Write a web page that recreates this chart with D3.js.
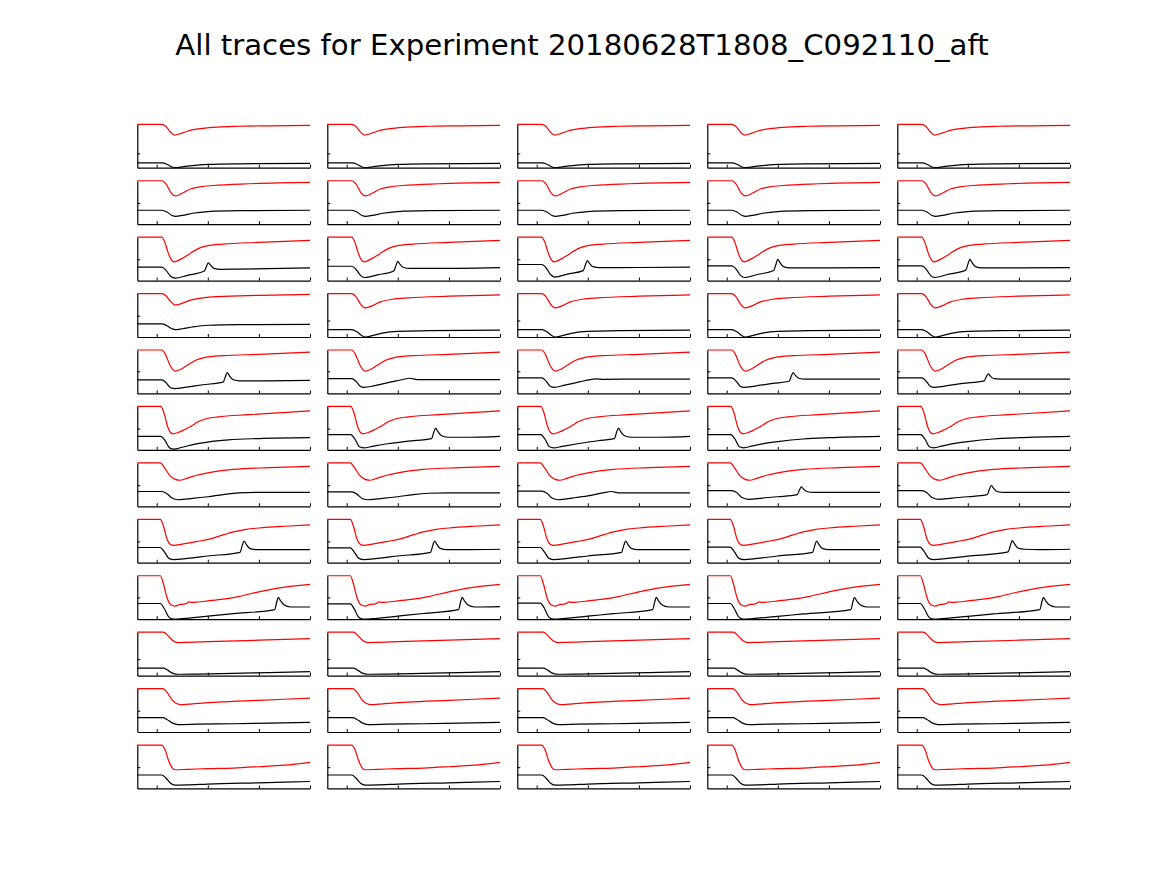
<!DOCTYPE html>
<html><head><meta charset="utf-8">
<script src="https://cdn.jsdelivr.net/npm/d3@7"></script>
<style>body{margin:0;background:#fff}</style>
</head><body>
<script>
// ---------- data (t in axis units, v as fraction of each panel's y-range) ----------
const title = "All traces for Experiment 20180628T1808_C092110_aft";
const xTicks = [0, 1, 2, 3];
const xDomain = [-0.38, 3];

// y tick value per row and column
const yTicks = [
  [0.33, 0.33, 0.33, 0.33, 0.33],
  [0.49, 0.49, 0.49, 0.49, 0.49],
  [0.49, 0.49, 0.49, 0.49, 0.49],
  [0.49, 0.38, 0.38, 0.38, 0.38],
  [0.51, 0.51, 0.51, 0.51, 0.51],
  [0.49, 0.49, 0.49, 0.49, 0.49],
  [0.485, 0.485, 0.485, 0.485, 0.485],
  [0.49, 0.49, 0.49, 0.49, 0.49],
  [0.5, 0.5, 0.5, 0.5, 0.5],
  [0.38, 0.38, 0.38, 0.38, 0.38],
  [0.49, 0.49, 0.49, 0.49, 0.49],
  [0.49, 0.49, 0.49, 0.49, 0.49]
];

// red traces
const red1 = [[-0.38,1],[0.1,1],[0.18,0.95],[0.27,0.82],[0.35,0.75],[0.48,0.79],[0.65,0.86],[0.85,0.9],[1.1,0.93],[1.6,0.955],[2.2,0.965],[3,0.975]];
const red2 = [[-0.38,1],[0.1,1],[0.18,0.93],[0.28,0.72],[0.37,0.65],[0.5,0.71],[0.66,0.81],[0.85,0.86],[1.1,0.89],[1.8,0.93],[3,0.96]];
const red3 = [[-0.38,1],[0.1,1],[0.16,0.88],[0.23,0.62],[0.29,0.47],[0.34,0.43],[0.48,0.5],[0.65,0.62],[0.8,0.73],[0.98,0.8],[1.3,0.84],[2,0.88],[3,0.925]];
const red4a = [[-0.38,1],[0.1,1],[0.18,0.95],[0.27,0.82],[0.36,0.735],[0.48,0.77],[0.66,0.85],[0.9,0.9],[1.2,0.93],[2,0.96],[3,0.98]];
const red4b = [[-0.38,1],[0.1,1],[0.18,0.93],[0.27,0.76],[0.36,0.67],[0.48,0.71],[0.66,0.81],[0.9,0.87],[1.2,0.9],[2,0.94],[3,0.97]];
const red5 = [[-0.38,1],[0.1,1],[0.17,0.9],[0.26,0.65],[0.36,0.515],[0.46,0.55],[0.6,0.65],[0.75,0.76],[0.95,0.83],[1.3,0.87],[2,0.9],[3,0.95]];
const red6 = [[-0.38,1],[0.08,1],[0.14,0.86],[0.21,0.55],[0.27,0.4],[0.32,0.37],[0.42,0.4],[0.55,0.47],[0.68,0.55],[0.8,0.64],[0.95,0.71],[1.2,0.76],[1.8,0.81],[3,0.9]];
const red7 = [[-0.38,1],[0.07,1],[0.15,0.89],[0.25,0.72],[0.36,0.62],[0.45,0.6],[0.6,0.65],[0.8,0.72],[1.0,0.77],[1.5,0.85],[2.2,0.89],[3,0.92]];
const red8 = [[-0.38,1],[0.07,1],[0.13,0.85],[0.2,0.55],[0.27,0.42],[0.33,0.4],[0.5,0.43],[0.8,0.49],[1.05,0.55],[1.3,0.64],[1.5,0.71],[1.75,0.77],[2,0.8],[2.5,0.84],[3,0.87]];
const red9 = [[-0.38,1],[0.07,1],[0.13,0.82],[0.2,0.5],[0.28,0.33],[0.36,0.3],[0.46,0.34],[0.53,0.345],[0.58,0.36],[0.63,0.4],[0.69,0.385],[0.8,0.395],[1.0,0.42],[1.3,0.46],[1.6,0.52],[2.0,0.63],[2.4,0.72],[3,0.8]];
const red10 = [[-0.38,1],[0.13,1],[0.22,0.92],[0.32,0.8],[0.42,0.76],[0.6,0.765],[1.0,0.78],[2,0.815],[3,0.85]];
const red11 = [[-0.38,1],[0.12,1],[0.2,0.92],[0.3,0.74],[0.4,0.65],[0.47,0.63],[0.7,0.65],[1.2,0.69],[2,0.73],[3,0.78]];
const red12 = [[-0.38,1],[0.1,1],[0.16,0.9],[0.23,0.65],[0.3,0.48],[0.36,0.43],[0.6,0.44],[1.0,0.455],[1.5,0.47],[2,0.5],[2.5,0.535],[3,0.6]];

// black traces
const blk1 = [[-0.38,0.11],[0.1,0.11],[0.2,0.08],[0.3,0.015],[0.37,0],[0.5,0.02],[0.7,0.05],[1.0,0.075],[1.6,0.09],[3,0.1]];
const blk2 = [[-0.38,0.32],[0.1,0.32],[0.2,0.28],[0.3,0.2],[0.37,0.18],[0.5,0.2],[0.7,0.25],[1.0,0.29],[1.6,0.31],[3,0.32]];
const blk3 = [
  [[-0.38,0.31],[0.1,0.31],[0.18,0.24],[0.27,0.1],[0.36,0.055],[0.6,0.12],[0.93,0.22],[0.975,0.33],[1.01,0.41],[1.05,0.36],[1.12,0.28],[1.25,0.26],[1.6,0.265],[3,0.29]],
  [[-0.38,0.33],[0.1,0.33],[0.18,0.26],[0.27,0.12],[0.35,0.07],[0.6,0.13],[0.92,0.22],[0.965,0.35],[1.0,0.44],[1.04,0.38],[1.11,0.3],[1.24,0.28],[1.6,0.28],[3,0.3]],
  [[-0.38,0.37],[0.1,0.37],[0.18,0.3],[0.27,0.14],[0.35,0.08],[0.6,0.15],[0.91,0.23],[0.955,0.37],[0.99,0.46],[1.03,0.4],[1.1,0.32],[1.23,0.3],[1.6,0.3],[3,0.31]],
  [[-0.38,0.34],[0.1,0.34],[0.18,0.27],[0.27,0.12],[0.35,0.07],[0.6,0.14],[0.92,0.23],[0.965,0.38],[1.0,0.49],[1.04,0.42],[1.11,0.32],[1.24,0.29],[1.6,0.29],[3,0.3]],
  [[-0.38,0.34],[0.1,0.34],[0.18,0.27],[0.27,0.12],[0.35,0.07],[0.6,0.14],[0.96,0.24],[1.005,0.39],[1.04,0.49],[1.08,0.42],[1.15,0.32],[1.28,0.29],[1.6,0.29],[3,0.3]]
];
const blk4a = [[-0.38,0.3],[0.1,0.3],[0.2,0.26],[0.3,0.19],[0.36,0.17],[0.5,0.19],[0.7,0.23],[1.0,0.27],[1.6,0.285],[3,0.29]];
const blk4b = [[-0.38,0.17],[0.1,0.17],[0.2,0.12],[0.3,0.03],[0.36,0],[0.5,0.03],[0.7,0.09],[1.0,0.13],[1.6,0.145],[3,0.16]];
const blk5 = [
  [[-0.38,0.31],[0.1,0.31],[0.18,0.25],[0.27,0.13],[0.36,0.11],[0.55,0.14],[0.9,0.2],[1.3,0.26],[1.345,0.39],[1.38,0.48],[1.42,0.41],[1.49,0.32],[1.62,0.29],[2,0.29],[3,0.3]],
  [[-0.38,0.34],[0.1,0.34],[0.18,0.28],[0.27,0.16],[0.34,0.14],[0.55,0.18],[0.9,0.27],[1.1,0.32],[1.23,0.35],[1.38,0.32],[2,0.32],[3,0.32]],
  [[-0.38,0.36],[0.1,0.36],[0.18,0.29],[0.27,0.16],[0.34,0.14],[0.55,0.19],[0.85,0.27],[1.05,0.32],[1.16,0.335],[1.3,0.325],[2,0.33],[3,0.33]],
  [[-0.38,0.36],[0.1,0.36],[0.18,0.29],[0.27,0.16],[0.34,0.14],[0.55,0.17],[0.9,0.23],[1.22,0.28],[1.265,0.4],[1.3,0.48],[1.34,0.42],[1.41,0.35],[1.54,0.33],[2,0.33],[3,0.33]],
  [[-0.38,0.36],[0.1,0.36],[0.18,0.29],[0.27,0.16],[0.34,0.14],[0.55,0.17],[0.9,0.23],[1.32,0.29],[1.365,0.39],[1.4,0.45],[1.44,0.4],[1.51,0.34],[1.64,0.33],[2,0.33],[3,0.33]]
];
const blk6a = [[-0.38,0.31],[0.08,0.31],[0.16,0.22],[0.25,0.05],[0.33,0.015],[0.5,0.06],[0.75,0.13],[1.0,0.18],[1.4,0.23],[2,0.26],[3,0.28]];
const blk6b = [[-0.38,0.35],[0.08,0.35],[0.16,0.25],[0.25,0.07],[0.33,0.045],[0.5,0.08],[0.8,0.14],[1.2,0.2],[1.66,0.26],[1.705,0.41],[1.74,0.5],[1.78,0.43],[1.85,0.33],[1.98,0.29],[2.4,0.29],[3,0.31]];
const blk6c = [[-0.38,0.35],[0.08,0.35],[0.16,0.25],[0.25,0.07],[0.33,0.045],[0.5,0.08],[0.8,0.14],[1.2,0.21],[1.52,0.26],[1.565,0.41],[1.6,0.5],[1.64,0.43],[1.71,0.33],[1.84,0.29],[2.4,0.29],[3,0.31]];
const blk6d = [[-0.38,0.35],[0.08,0.35],[0.16,0.25],[0.25,0.07],[0.33,0.045],[0.5,0.09],[0.75,0.15],[1.0,0.19],[1.5,0.25],[2,0.28],[3,0.31]];
const blk7 = [
  [[-0.38,0.34],[0.1,0.34],[0.2,0.29],[0.3,0.19],[0.42,0.15],[0.7,0.18],[1.0,0.22],[1.3,0.27],[1.6,0.31],[2,0.32],[3,0.32]],
  [[-0.38,0.33],[0.1,0.33],[0.2,0.28],[0.3,0.18],[0.42,0.15],[0.7,0.18],[1.0,0.22],[1.3,0.27],[1.6,0.3],[2,0.31],[3,0.31]],
  [[-0.38,0.35],[0.1,0.35],[0.2,0.3],[0.3,0.19],[0.42,0.15],[0.7,0.19],[1.0,0.24],[1.3,0.31],[1.46,0.34],[1.6,0.31],[2,0.31],[3,0.31]],
  [[-0.38,0.36],[0.1,0.36],[0.2,0.31],[0.3,0.2],[0.42,0.16],[0.7,0.19],[1.0,0.22],[1.38,0.27],[1.425,0.38],[1.46,0.45],[1.5,0.4],[1.57,0.34],[1.7,0.32],[2,0.32],[3,0.32]],
  [[-0.38,0.36],[0.1,0.36],[0.2,0.31],[0.3,0.2],[0.42,0.16],[0.7,0.19],[1.0,0.22],[1.38,0.27],[1.425,0.4],[1.46,0.48],[1.5,0.42],[1.57,0.34],[1.7,0.32],[2,0.32],[3,0.32]]
];
const blk8 = [
  [[-0.38,0.35],[0.07,0.35],[0.15,0.25],[0.24,0.1],[0.34,0.07],[0.6,0.1],[1.0,0.155],[1.63,0.24],[1.675,0.4],[1.71,0.5],[1.75,0.43],[1.82,0.33],[1.95,0.3],[2.3,0.3],[3,0.3]],
  [[-0.38,0.34],[0.07,0.34],[0.15,0.24],[0.24,0.1],[0.34,0.07],[0.6,0.1],[1.0,0.155],[1.64,0.24],[1.685,0.4],[1.72,0.5],[1.76,0.43],[1.83,0.33],[1.96,0.3],[2.3,0.3],[3,0.31]],
  [[-0.38,0.35],[0.07,0.35],[0.15,0.25],[0.24,0.1],[0.34,0.07],[0.6,0.1],[1.0,0.155],[1.66,0.24],[1.705,0.4],[1.74,0.5],[1.78,0.43],[1.85,0.33],[1.98,0.3],[2.3,0.3],[3,0.3]],
  [[-0.38,0.36],[0.07,0.36],[0.15,0.25],[0.24,0.1],[0.34,0.07],[0.6,0.1],[1.0,0.155],[1.68,0.24],[1.725,0.4],[1.76,0.5],[1.8,0.43],[1.87,0.33],[2.0,0.3],[2.3,0.3],[3,0.3]],
  [[-0.38,0.36],[0.07,0.36],[0.15,0.25],[0.24,0.1],[0.34,0.07],[0.6,0.1],[1.0,0.15],[1.79,0.25],[1.835,0.41],[1.87,0.51],[1.91,0.44],[1.98,0.34],[2.11,0.31],[2.4,0.3],[3,0.31]]
];
const blk9 = [
  [[-0.38,0.36],[0.07,0.36],[0.15,0.24],[0.23,0.06],[0.32,0],[0.5,0.01],[1.0,0.07],[1.5,0.125],[2.31,0.22],[2.35,0.4],[2.38,0.5],[2.42,0.43],[2.49,0.33],[2.62,0.28],[3,0.28]],
  [[-0.38,0.35],[0.07,0.35],[0.15,0.23],[0.23,0.05],[0.32,0],[0.5,0.01],[1.0,0.07],[1.5,0.13],[2.19,0.22],[2.23,0.4],[2.26,0.5],[2.3,0.43],[2.37,0.33],[2.5,0.28],[3,0.29]],
  [[-0.38,0.37],[0.07,0.37],[0.15,0.25],[0.23,0.06],[0.32,0],[0.5,0.01],[1.0,0.07],[1.5,0.125],[2.27,0.22],[2.31,0.4],[2.34,0.5],[2.38,0.43],[2.45,0.33],[2.58,0.28],[3,0.28]],
  [[-0.38,0.36],[0.07,0.36],[0.15,0.24],[0.23,0.06],[0.32,0],[0.5,0.01],[1.0,0.065],[1.5,0.12],[2.43,0.22],[2.47,0.4],[2.5,0.5],[2.54,0.43],[2.61,0.33],[2.74,0.28],[3,0.28]],
  [[-0.38,0.36],[0.07,0.36],[0.15,0.24],[0.23,0.06],[0.32,0],[0.5,0.01],[1.0,0.065],[1.5,0.12],[2.41,0.22],[2.45,0.4],[2.48,0.5],[2.52,0.43],[2.59,0.33],[2.72,0.28],[3,0.28]]
];
const blk10 = [[-0.38,0.17],[0.13,0.17],[0.22,0.12],[0.32,0.05],[0.42,0.03],[0.8,0.035],[1.5,0.05],[2.2,0.07],[3,0.09]];
const blk11 = [[-0.38,0.33],[0.12,0.33],[0.2,0.29],[0.3,0.21],[0.42,0.17],[0.8,0.18],[1.5,0.19],[2.2,0.205],[3,0.22]];
const blk12 = [[-0.38,0.31],[0.1,0.31],[0.18,0.24],[0.27,0.12],[0.36,0.075],[0.6,0.08],[1.0,0.1],[2,0.13],[3,0.16]];

// which trace goes in which panel (row -> 5 columns)
const redGrid = [
  [red1,red1,red1,red1,red1],
  [red2,red2,red2,red2,red2],
  [red3,red3,red3,red3,red3],
  [red4a,red4b,red4b,red4b,red4b],
  [red5,red5,red5,red5,red5],
  [red6,red6,red6,red6,red6],
  [red7,red7,red7,red7,red7],
  [red8,red8,red8,red8,red8],
  [red9,red9,red9,red9,red9],
  [red10,red10,red10,red10,red10],
  [red11,red11,red11,red11,red11],
  [red12,red12,red12,red12,red12]
];
const blackGrid = [
  [blk1,blk1,blk1,blk1,blk1],
  [blk2,blk2,blk2,blk2,blk2],
  blk3,
  [blk4a,blk4b,blk4b,blk4b,blk4b],
  blk5,
  [blk6a,blk6b,blk6c,blk6d,blk6d],
  blk7,
  blk8,
  blk9,
  [blk10,blk10,blk10,blk10,blk10],
  [blk11,blk11,blk11,blk11,blk11],
  [blk12,blk12,blk12,blk12,blk12]
];

// ---------- layout ----------
const W = 1167, H = 875;
const left0 = 137.3, colStride = 190, panelW = 172.7;
const top0 = 124.3, rowStride = 56.43, panelH = 43.4;

const svg = d3.select("body").append("svg")
  .attr("width", W).attr("height", H)
  .style("font-family", "'DejaVu Sans', sans-serif");
svg.append("rect").attr("width", W).attr("height", H).attr("fill", "#fff");

svg.append("text")
  .attr("x", W / 2 - 1.5).attr("y", 55)
  .attr("text-anchor", "middle")
  .attr("font-size", 29.2)
  .attr("fill", "#000")
  .text(title);

const x = d3.scaleLinear().domain(xDomain).range([0, panelW]);
const y = d3.scaleLinear().domain([0, 1]).range([panelH, 0]);
const line = d3.line().x(d => x(d[0])).y(d => y(d[1])).curve(d3.curveMonotoneX);

for (let r = 0; r < 12; r++) {
  for (let c = 0; c < 5; c++) {
    const g = svg.append("g")
      .attr("transform", `translate(${left0 + c * colStride},${top0 + r * rowStride})`);
    g.append("path").datum(redGrid[r][c])
      .attr("d", line).attr("fill", "none")
      .attr("stroke", "#ff0000").attr("stroke-width", 1.2);
    g.append("path").datum(blackGrid[r][c])
      .attr("d", line).attr("fill", "none")
      .attr("stroke", "#000").attr("stroke-width", 1.2);

    const xa = g.append("g").attr("transform", `translate(0,${panelH})`)
      .call(d3.axisBottom(x).tickValues(xTicks).tickSize(-3).tickSizeOuter(0).tickFormat(""));
    const ya = g.append("g")
      .call(d3.axisLeft(y).tickValues([yTicks[r][c]]).tickSize(-3).tickSizeOuter(0).tickFormat(""));
    [xa, ya].forEach(a => {
      a.select(".domain").attr("stroke", "#000").attr("stroke-width", 1.2);
      a.selectAll(".tick line").attr("stroke", "#000").attr("stroke-width", 1);
    });
  }
}
</script>
</body></html>
